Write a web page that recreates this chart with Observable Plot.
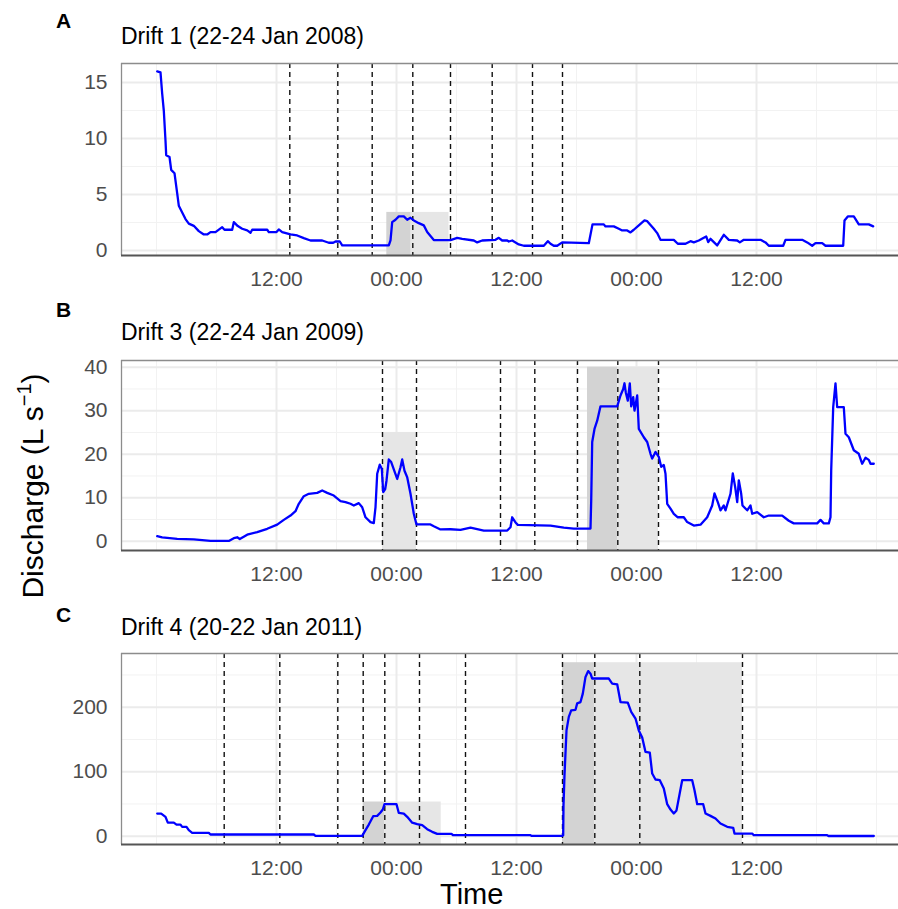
<!DOCTYPE html>
<html><head><meta charset="utf-8">
<script src="https://cdn.jsdelivr.net/npm/d3@7"></script>
<script src="https://cdn.jsdelivr.net/npm/@observablehq/plot@0.6"></script>
<style>
body{margin:0;background:#fff;}
#wrap{position:relative;width:898px;height:909px;overflow:hidden;font-family:"Liberation Sans",Arial,sans-serif;background:#fff;}
.lab{position:absolute;line-height:1;white-space:nowrap;color:#000;}
.panel{position:absolute;left:0;}
</style></head><body><div id="wrap"></div>
<script>
// ---- Data (time in hours from 00:00 of first day) ----
const panelLetters = ["A", "B", "C"];
const panelTitles = ["Drift 1 (22-24 Jan 2008)", "Drift 3 (22-24 Jan 2009)", "Drift 4 (20-22 Jan 2011)"];
const yAxisTitle = "Discharge (L s";
const yAxisSup = "\u22121";
const xAxisTitle = "Time";

const timeTicks = [12, 24, 36, 48, 60];
const timeTickLabels = ["12:00", "00:00", "12:00", "00:00", "12:00"];
const timeMinor = [0, 6, 18, 30, 42, 54, 66, 72];

const drift1Ticks = [0, 5, 10, 15];
const drift1Minor = [2.5, 7.5, 12.5];
const drift3Ticks = [0, 10, 20, 30, 40];
const drift3Minor = [5, 15, 25, 35];
const drift4Ticks = [0, 100, 200];
const drift4Minor = [50, 150, 250];

const drift1 = [[0.07,16.0],[0.4,15.9],[0.57,14.0],[0.73,12.5],[0.9,9.8],[0.97,8.5],[1.3,8.35],[1.47,7.2],[1.8,6.9],[2.07,5.1],[2.23,4.0],[2.57,3.4],[2.9,2.8],[3.23,2.4],[3.73,2.2],[4.23,1.73],[4.73,1.43],[5.07,1.43],[5.4,1.64],[5.9,1.64],[6.57,2.08],[6.8,1.85],[7.57,1.85],[7.73,2.53],[8.13,2.18],[8.57,1.94],[9.07,1.79],[9.4,1.58],[9.57,1.85],[11.07,1.85],[11.23,1.64],[12.0,1.64],[12.23,1.88],[12.57,1.64],[13.4,1.43],[14.07,1.34],[14.73,1.1],[15.4,0.89],[16.57,0.89],[17.23,0.69],[17.67,0.69],[17.9,0.8],[18.33,0.8],[18.57,0.45],[23.23,0.45],[23.4,0.89],[23.57,2.53],[23.9,2.74],[24.23,3.04],[24.73,3.04],[25.07,2.74],[25.4,2.92],[25.73,2.68],[26.23,2.44],[26.73,2.24],[27.07,1.64],[27.73,0.93],[29.4,0.93],[30.07,1.13],[30.57,1.04],[31.73,0.89],[32.07,0.72],[32.57,0.89],[33.9,0.95],[34.23,1.13],[34.57,0.89],[35.07,0.89],[35.23,0.8],[35.57,0.89],[36.23,0.54],[36.73,0.42],[38.73,0.42],[39.13,0.83],[39.4,0.6],[39.73,0.42],[40.07,0.42],[40.57,0.72],[43.23,0.65],[43.6,2.33],[44.73,2.33],[44.9,2.15],[45.73,2.15],[46.23,1.94],[46.57,1.79],[47.07,1.79],[47.4,1.61],[47.73,1.85],[48.23,2.24],[48.8,2.68],[49.07,2.62],[49.73,1.94],[50.07,1.55],[50.4,0.95],[51.73,0.95],[52.13,0.6],[52.9,0.6],[53.4,0.83],[53.73,0.72],[54.23,0.89],[54.73,1.13],[54.97,1.25],[55.17,0.75],[55.4,1.04],[56.07,0.45],[56.73,1.4],[57.23,0.95],[58.07,0.89],[58.33,0.72],[58.73,0.95],[60.4,0.95],[60.9,0.72],[61.23,0.42],[61.57,0.42],[62.67,0.42],[62.9,0.95],[64.57,0.95],[65.07,0.72],[65.57,0.42],[65.9,0.65],[66.57,0.65],[66.9,0.42],[68.67,0.42],[68.8,2.68],[69.13,3.04],[69.73,3.04],[70.23,2.33],[71.23,2.33],[71.67,2.15]];

const drift3 = [[0.07,1.15],[0.57,0.9],[2.07,0.55],[3.73,0.43],[5.4,0.05],[7.23,0.05],[7.73,0.7],[8.07,0.9],[8.33,0.5],[9.07,1.5],[10.07,2.1],[11.07,2.85],[12.07,3.8],[12.73,4.9],[13.4,5.9],[13.9,6.9],[14.23,8.6],[14.73,10.35],[15.23,10.9],[16.07,11.1],[16.57,11.65],[17.07,11.1],[17.73,10.5],[18.4,9.2],[18.9,9.0],[19.4,8.6],[19.73,8.2],[20.23,8.75],[20.57,7.8],[20.9,5.5],[21.4,4.4],[21.73,4.15],[21.9,7.8],[22.07,15.5],[22.33,17.6],[22.53,16.6],[22.67,11.3],[22.87,12],[23.0,13.9],[23.23,18.8],[23.47,18.2],[24.07,14.3],[24.4,17],[24.57,18.8],[24.8,16.2],[25.07,14.7],[25.4,10.9],[25.73,6.3],[26.0,3.85],[27.4,3.85],[27.73,3.45],[28.4,2.7],[29.4,2.75],[30.4,2.6],[31.4,3.1],[32.73,2.45],[35.07,2.45],[35.4,3.2],[35.57,5.5],[35.9,4.3],[36.13,3.75],[39.4,3.6],[40.73,3.1],[41.73,2.9],[43.4,2.9],[43.47,9.3],[43.57,22.8],[43.8,25.8],[44.07,27.7],[44.4,31],[46.07,31],[46.4,33.5],[46.67,35],[46.8,36.3],[46.93,34.2],[47.13,32.3],[47.33,36.3],[47.47,31],[47.67,33.1],[47.8,30],[48.07,33.5],[48.23,25.8],[48.73,23.9],[49.07,22.8],[49.4,20.1],[49.57,19],[49.9,20.5],[50.23,19.4],[50.47,17.1],[50.73,17.5],[50.9,15.5],[51.07,8.6],[51.4,7.5],[51.73,6.3],[52.13,5.5],[52.73,5.5],[53.07,4.4],[53.73,3.6],[54.4,3.8],[55.07,5.5],[55.57,8.2],[55.8,11],[56.13,9],[56.4,7.1],[56.73,8.2],[56.9,7.1],[57.4,10.9],[57.63,15.6],[57.87,12.4],[58.07,9],[58.23,14],[58.47,10.9],[58.6,8.2],[59.07,7.1],[59.4,8.2],[59.57,6.3],[60.07,6.7],[60.73,5.5],[61.23,5.9],[62.57,5.9],[63.23,4.7],[63.73,4.1],[66.07,4.1],[66.4,4.9],[66.73,4.1],[67.23,4.1],[67.4,5.5],[67.47,16.3],[67.67,30.8],[67.9,36.3],[68.07,30.8],[68.73,30.8],[68.9,24.7],[69.23,23.9],[69.73,20.9],[70.23,20.1],[70.57,17.8],[70.9,19.2],[71.23,18.7],[71.4,17.8],[71.73,17.8]];

const drift4 = [[0.07,35],[0.47,35],[0.9,30],[1.13,21],[1.73,21],[2.0,18],[2.4,18],[2.57,14.5],[3.0,14.5],[3.23,9.3],[3.57,5.2],[5.23,5.2],[5.4,2.6],[15.73,2.6],[15.9,0.5],[20.57,0.5],[20.9,9.3],[21.23,18],[21.67,31],[22.07,31.5],[22.4,36.7],[22.63,41.4],[22.8,49.6],[24.0,49.6],[24.23,36],[24.73,35],[25.07,30],[25.57,21],[26.07,18.6],[26.57,17],[27.07,10.9],[27.57,6.7],[28.07,3.5],[29.5,3.5],[29.67,1.5],[37.4,1.5],[37.5,0.5],[40.57,0.5],[40.67,1.5],[40.7,48],[40.8,94.6],[41.0,164],[41.23,185],[41.47,195],[41.9,196],[42.07,206],[42.4,208],[42.63,221],[42.9,247],[43.17,256],[43.4,252],[43.57,244.5],[45.23,244.5],[45.57,236.7],[46.07,235.5],[46.4,208],[47.13,207],[47.47,192.7],[47.9,182.4],[48.23,164],[48.57,153],[48.9,130.7],[49.33,129.5],[49.57,97.2],[49.9,87.9],[50.33,86.8],[50.73,73.9],[51.07,49.6],[51.4,41.3],[51.73,35.2],[52.0,40],[52.57,86.8],[53.57,86.8],[53.8,71.3],[54.07,49.6],[54.67,49.6],[54.9,35.2],[55.4,31.5],[55.9,27.4],[56.4,19.6],[57.07,14.5],[57.67,12.9],[57.8,4.1],[59.57,4.1],[59.73,1.5],[67.07,1.5],[67.2,0.3],[71.73,0.3]];

// shaded periods: [start h, end h, top value, shade]
const drift1Shades = [[23.03, 25.47, 3.4, "dark"], [25.47, 29.25, 3.4, "light"]];
const drift3Shades = [[22.6, 26.0, 25, "light"], [43.1, 46.13, 40, "dark"], [46.13, 50.2, 40, "light"]];
const drift4Shades = [[20.67, 22.83, 53, "dark"], [22.83, 28.47, 53, "light"], [40.6, 43.83, 269, "dark"], [43.83, 58.6, 269, "light"]];

// dashed sampling times (hours)
const drift1Samples = [13.33, 18.13, 21.57, 25.63, 29.4, 33.57, 37.6, 40.6];
const drift3Samples = [22.6, 26.0, 34.4, 37.83, 42.1, 46.13, 50.2];
const drift4Samples = [6.77, 12.33, 18.13, 20.67, 22.83, 26.3, 30.9, 40.6, 43.83, 48.33, 58.6];

// ---- Layout ----
const xDomain = [-3.5, 74.2];
const font = '"Liberation Sans", Arial, sans-serif';
const wrap = document.getElementById("wrap");

function makePanel(cfg) {
  const mTop = 10, mBot = 40;
  const yMin = cfg.yDomain[0], yMax = cfg.yDomain[1];
  const chart = Plot.plot({
    width: 898,
    height: mTop + cfg.panelH + mBot,
    marginLeft: 121, marginRight: 0, marginTop: mTop, marginBottom: mBot,
    style: {fontFamily: font, fontSize: "21px", color: "#4d4d4d", background: "transparent", overflow: "visible"},
    x: {domain: xDomain, ticks: timeTicks, tickFormat: d => timeTickLabels[timeTicks.indexOf(d)], tickSize: 0, tickPadding: 16, label: null},
    y: {domain: cfg.yDomain, ticks: cfg.yTicks, tickSize: 0, tickPadding: 14, label: null},
    marks: [
      Plot.ruleX(timeMinor, {stroke: "#f2f2f2", strokeWidth: 1}),
      Plot.ruleY(cfg.yMinor, {stroke: "#f2f2f2", strokeWidth: 1}),
      Plot.ruleX(timeTicks, {stroke: "#ebebeb", strokeWidth: 2}),
      Plot.ruleY(cfg.yTicks, {stroke: "#ebebeb", strokeWidth: 2}),
      Plot.rect(cfg.shades, {x1: d => d[0], x2: d => d[1], y1: () => yMin, y2: d => d[2],
        fill: d => d[3] === "dark" ? "#d3d3d3" : "#e6e6e6"}),
      Plot.ruleX(cfg.samples, {stroke: "#111111", strokeWidth: 1.4, strokeDasharray: "5,4"}),
      Plot.line(cfg.data, {x: d => d[0], y: d => d[1], stroke: "#0000ff", strokeWidth: 2.3}),
      Plot.ruleY([yMax], {stroke: "#8c8c8c", strokeWidth: 1.3}),
      Plot.ruleX([xDomain[0]], {stroke: "#8c8c8c", strokeWidth: 1.3}),
      Plot.ruleY([yMin], {stroke: "#555555", strokeWidth: 2.2})
    ]
  });
  const div = document.createElement("div");
  div.className = "panel";
  div.style.top = (cfg.panelTop - mTop) + "px";
  div.appendChild(chart);
  wrap.appendChild(div);
}

makePanel({data: drift1, shades: drift1Shades, samples: drift1Samples, yDomain: [-0.45, 16.7], yTicks: drift1Ticks, yMinor: drift1Minor, panelTop: 63, panelH: 192});
makePanel({data: drift3, shades: drift3Shades, samples: drift3Samples, yDomain: [-2.14, 41.54], yTicks: drift3Ticks, yMinor: drift3Minor, panelTop: 360, panelH: 190});
makePanel({data: drift4, shades: drift4Shades, samples: drift4Samples, yDomain: [-12.9, 283.3], yTicks: drift4Ticks, yMinor: drift4Minor, panelTop: 653, panelH: 191});

function addLabel(text, left, top, size, weight) {
  const d = document.createElement("div");
  d.className = "lab";
  d.textContent = text;
  d.style.left = left + "px";
  d.style.top = top + "px";
  d.style.fontSize = size + "px";
  if (weight) d.style.fontWeight = weight;
  wrap.appendChild(d);
}
const letterBaselines = [28, 317, 622];
const titleBaselines = [44.3, 340, 635];
panelLetters.forEach((L, i) => addLabel(L, 56, letterBaselines[i] - 0.8465 * 21, 21, "bold"));
panelTitles.forEach((t, i) => addLabel(t, 121, titleBaselines[i] - 0.8465 * 23, 23));
addLabel(xAxisTitle, 440, 905 - 0.8465 * 29, 29);

// rotated y-axis title
const ns = "http://www.w3.org/2000/svg";
const svg = document.createElementNS(ns, "svg");
svg.setAttribute("width", 898); svg.setAttribute("height", 909);
svg.style.position = "absolute"; svg.style.left = "0"; svg.style.top = "0"; svg.style.pointerEvents = "none";
const t = document.createElementNS(ns, "text");
t.setAttribute("transform", "translate(43,486) rotate(-90)");
t.setAttribute("text-anchor", "middle");
t.setAttribute("font-family", font);
t.setAttribute("font-size", "30");
t.setAttribute("fill", "#000");
const s1 = document.createElementNS(ns, "tspan"); s1.textContent = yAxisTitle;
const s2 = document.createElementNS(ns, "tspan"); s2.textContent = yAxisSup; s2.setAttribute("font-size", "20"); s2.setAttribute("dy", "-12");
const s3 = document.createElementNS(ns, "tspan"); s3.textContent = ")"; s3.setAttribute("dy", "12");
t.appendChild(s1); t.appendChild(s2); t.appendChild(s3);
svg.appendChild(t);
wrap.appendChild(svg);
</script>
</body></html>
